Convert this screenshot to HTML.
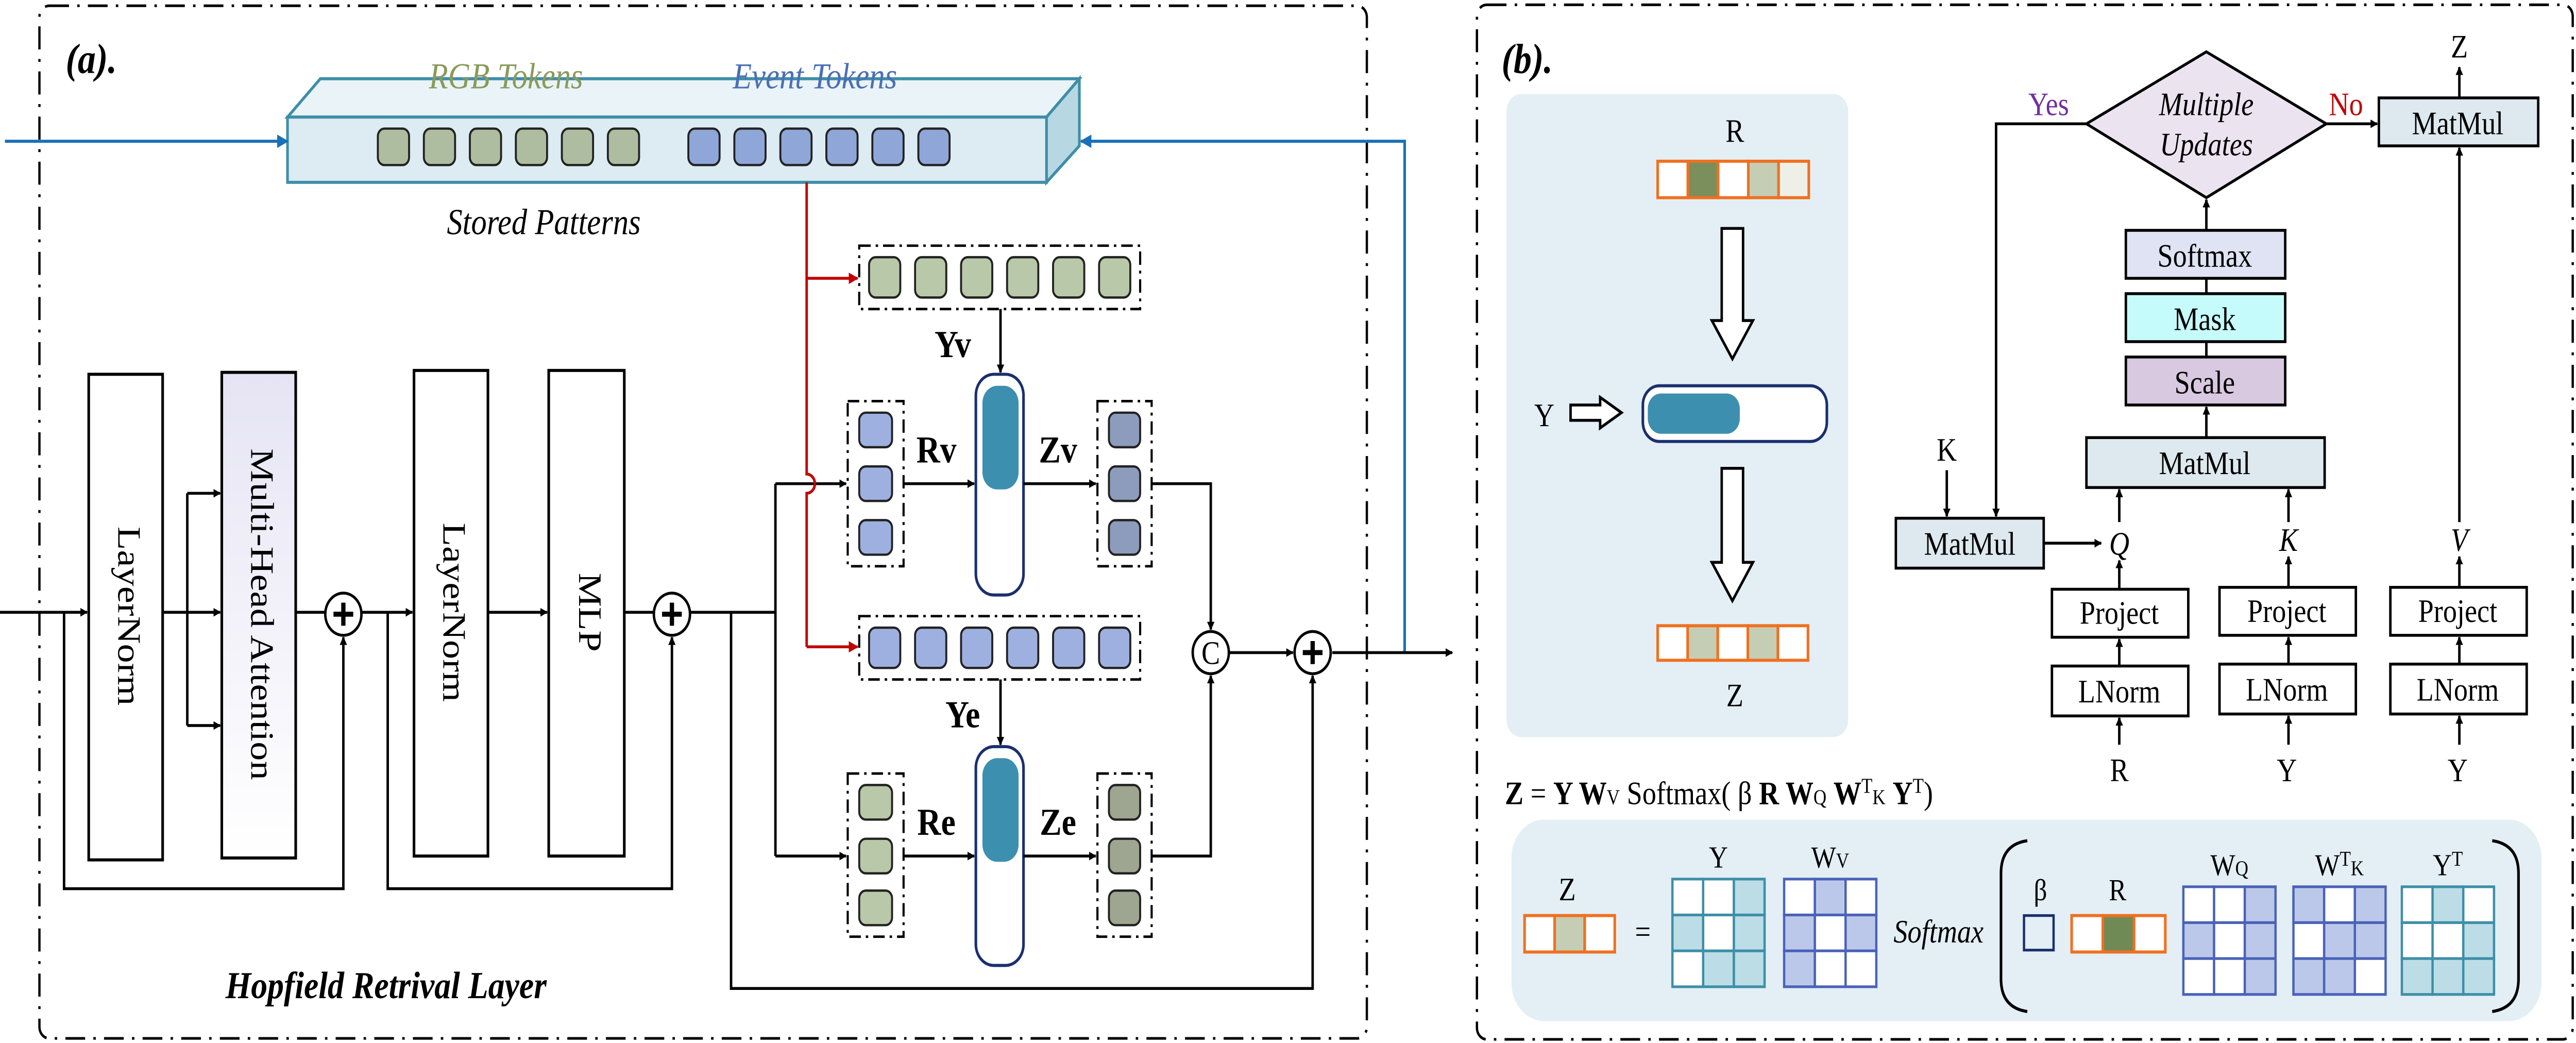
<!DOCTYPE html>
<html><head><meta charset="utf-8"><style>html,body{margin:0;padding:0;background:#fff;overflow:hidden;width:100%;height:100%}svg{display:block;position:absolute;left:0;top:0;width:100vw;height:100vh}</style></head><body>
<svg xmlns="http://www.w3.org/2000/svg" viewBox="0 0 1568 543.4" preserveAspectRatio="none" font-family="Liberation Serif, serif">
<defs>
<marker id="ab" viewBox="0 0 10 10" refX="9" refY="5" markerWidth="4.5" markerHeight="4.5" orient="auto" markerUnits="userSpaceOnUse"><path d="M0,0L10,5L0,10z" fill="#000"/></marker>
<marker id="ar" viewBox="0 0 10 10" refX="9" refY="5" markerWidth="6" markerHeight="6" orient="auto" markerUnits="userSpaceOnUse"><path d="M0,0L10,5L0,10z" fill="#c00000"/></marker>
<marker id="au" viewBox="0 0 10 10" refX="9" refY="5" markerWidth="7" markerHeight="7" orient="auto" markerUnits="userSpaceOnUse"><path d="M0,0L10,5L0,10z" fill="#1a70b8"/></marker>
<linearGradient id="mha" x1="0" y1="0" x2="0" y2="1"><stop offset="0" stop-color="#e6e4f4"/><stop offset="1" stop-color="#fff"/></linearGradient>
</defs>

<rect x="24" y="3" width="808" height="538" rx="6" fill="none" stroke="#000" stroke-width="1.4" stroke-dasharray="12 5 1.5 5"/>
<rect x="899" y="2.5" width="667" height="539" rx="6" fill="none" stroke="#000" stroke-width="1.4" stroke-dasharray="12 5 1.5 5"/>
<text x="40" y="38" font-size="22" font-style="italic" font-weight="bold">(a).</text>
<text x="914" y="38" font-size="22" font-style="italic" font-weight="bold">(b).</text>

<polygon points="175,61 195,41 657,41 637,61" fill="#eaf3f7" stroke="#3e8ea8" stroke-width="1.6"/>
<polygon points="637,61 657,41 657,76 637,95" fill="#b7d8e2" stroke="#3e8ea8" stroke-width="1.6"/>
<rect x="175" y="61" width="462" height="34" fill="#dcecf2" stroke="#3e8ea8" stroke-width="1.6"/>
<g stroke="#222" stroke-width="1.2">
<rect x="230" y="67" width="19" height="19" rx="4" fill="#aebd9f"/><rect x="258" y="67" width="19" height="19" rx="4" fill="#aebd9f"/><rect x="286" y="67" width="19" height="19" rx="4" fill="#aebd9f"/><rect x="314" y="67" width="19" height="19" rx="4" fill="#aebd9f"/><rect x="342" y="67" width="19" height="19" rx="4" fill="#aebd9f"/><rect x="370" y="67" width="19" height="19" rx="4" fill="#aebd9f"/>
<rect x="419" y="67" width="19" height="19" rx="4" fill="#8fa6d8"/><rect x="447" y="67" width="19" height="19" rx="4" fill="#8fa6d8"/><rect x="475" y="67" width="19" height="19" rx="4" fill="#8fa6d8"/><rect x="503" y="67" width="19" height="19" rx="4" fill="#8fa6d8"/><rect x="531" y="67" width="19" height="19" rx="4" fill="#8fa6d8"/><rect x="559" y="67" width="19" height="19" rx="4" fill="#8fa6d8"/>
</g>
<text x="308" y="46" font-size="19" font-style="italic" fill="#8a9a5b" text-anchor="middle">RGB Tokens</text>
<text x="496" y="46" font-size="19" font-style="italic" fill="#4a6fb5" text-anchor="middle">Event Tokens</text>
<text x="331" y="122" font-size="19" font-style="italic" text-anchor="middle">Stored  Patterns</text>

<line x1="3" y1="73.6" x2="175" y2="73.6" stroke="#1a70b8" stroke-width="1.6" marker-end="url(#au)"/>
<polyline points="855,340 855,73.6 658,73.6" fill="none" stroke="#1a70b8" stroke-width="1.6" marker-end="url(#au)"/>

<path d="M491,95 V247 a5,5 0 0 1 0,10 V337" fill="none" stroke="#c00000" stroke-width="1.5"/>
<line x1="491" y1="145" x2="522" y2="145" stroke="#c00000" stroke-width="1.5" marker-end="url(#ar)"/>
<line x1="491" y1="337" x2="522" y2="337" stroke="#c00000" stroke-width="1.5" marker-end="url(#ar)"/>

<g fill="none" stroke="#000" stroke-width="1.3" stroke-dasharray="7 3 1.5 3">
<rect x="523" y="128" width="171" height="33"/>
<rect x="523" y="321" width="171" height="33"/>
<rect x="516" y="209" width="34" height="86"/>
<rect x="668" y="209" width="33" height="86"/>
<rect x="516" y="403" width="34" height="85"/>
<rect x="668" y="403" width="33" height="85"/>
</g>
<g stroke="#222" stroke-width="1.2">
<rect x="529" y="134" width="19" height="21" rx="4" fill="#b9c8a8"/><rect x="557" y="134" width="19" height="21" rx="4" fill="#b9c8a8"/><rect x="585" y="134" width="19" height="21" rx="4" fill="#b9c8a8"/><rect x="613" y="134" width="19" height="21" rx="4" fill="#b9c8a8"/><rect x="641" y="134" width="19" height="21" rx="4" fill="#b9c8a8"/><rect x="669" y="134" width="19" height="21" rx="4" fill="#b9c8a8"/>
<rect x="529" y="327" width="19" height="21" rx="4" fill="#9db0e0"/><rect x="557" y="327" width="19" height="21" rx="4" fill="#9db0e0"/><rect x="585" y="327" width="19" height="21" rx="4" fill="#9db0e0"/><rect x="613" y="327" width="19" height="21" rx="4" fill="#9db0e0"/><rect x="641" y="327" width="19" height="21" rx="4" fill="#9db0e0"/><rect x="669" y="327" width="19" height="21" rx="4" fill="#9db0e0"/>
<rect x="523" y="215" width="20" height="18" rx="4" fill="#9db0e0"/><rect x="523" y="243" width="20" height="18" rx="4" fill="#9db0e0"/><rect x="523" y="271" width="20" height="18" rx="4" fill="#9db0e0"/>
<rect x="675" y="215" width="19" height="18" rx="4" fill="#8d9cbc"/><rect x="675" y="243" width="19" height="18" rx="4" fill="#8d9cbc"/><rect x="675" y="271" width="19" height="18" rx="4" fill="#8d9cbc"/>
<rect x="523" y="409" width="20" height="18" rx="4" fill="#b9c8a8"/><rect x="523" y="437" width="20" height="18" rx="4" fill="#b9c8a8"/><rect x="523" y="464" width="20" height="18" rx="4" fill="#b9c8a8"/>
<rect x="675" y="409" width="19" height="18" rx="4" fill="#9ea590"/><rect x="675" y="437" width="19" height="18" rx="4" fill="#9ea590"/><rect x="675" y="464" width="19" height="18" rx="4" fill="#9ea590"/>
</g>

<rect x="594" y="195" width="29" height="115" rx="11" fill="#fff" stroke="#1a2f6e" stroke-width="1.6"/>
<rect x="598" y="201" width="22" height="54" rx="9" fill="#3d8fb0"/>
<rect x="594" y="389" width="29" height="114" rx="11" fill="#fff" stroke="#1a2f6e" stroke-width="1.6"/>
<rect x="598" y="395" width="22" height="54" rx="9" fill="#3d8fb0"/>

<g font-size="20" font-weight="bold">
<text x="580" y="186" text-anchor="middle">Yv</text>
<text x="586" y="379" text-anchor="middle">Ye</text>
<text x="570" y="241" text-anchor="middle">Rv</text>
<text x="644" y="241" text-anchor="middle">Zv</text>
<text x="570" y="435" text-anchor="middle">Re</text>
<text x="644" y="435" text-anchor="middle">Ze</text>
</g>

<g fill="none" stroke="#000" stroke-width="1.5">
<line x1="609" y1="161" x2="609" y2="194" marker-end="url(#ab)"/>
<line x1="609" y1="354" x2="609" y2="388" marker-end="url(#ab)"/>
<line x1="550" y1="252" x2="593" y2="252" marker-end="url(#ab)"/>
<line x1="623" y1="252" x2="667" y2="252" marker-end="url(#ab)"/>
<line x1="550" y1="446" x2="593" y2="446" marker-end="url(#ab)"/>
<line x1="623" y1="446" x2="667" y2="446" marker-end="url(#ab)"/>
<polyline points="701,252 737,252 737,328" marker-end="url(#ab)"/>
<polyline points="701,446 737,446 737,352" marker-end="url(#ab)"/>
<line x1="748" y1="340" x2="787" y2="340" marker-end="url(#ab)"/>
<line x1="811" y1="340" x2="884" y2="340" marker-end="url(#ab)"/>
<line x1="0" y1="319" x2="53" y2="319" marker-end="url(#ab)"/>
<line x1="99" y1="319" x2="134" y2="319" marker-end="url(#ab)"/>
<polyline points="114,257 114,378"/>
<line x1="114" y1="257" x2="134" y2="257" marker-end="url(#ab)"/>
<line x1="114" y1="378" x2="134" y2="378" marker-end="url(#ab)"/>
<line x1="180" y1="319" x2="198" y2="319"/>
<line x1="220" y1="319" x2="251" y2="319" marker-end="url(#ab)"/>
<line x1="297" y1="319" x2="333" y2="319" marker-end="url(#ab)"/>
<line x1="380" y1="319" x2="398" y2="319"/>
<polyline points="39,319 39,463 209,463 209,332" marker-end="url(#ab)"/>
<polyline points="236,319 236,463 409,463 409,332" marker-end="url(#ab)"/>
<line x1="420" y1="319" x2="472" y2="319"/>
<polyline points="472,252 472,446"/>
<line x1="472" y1="252" x2="515" y2="252" marker-end="url(#ab)"/>
<line x1="472" y1="446" x2="515" y2="446" marker-end="url(#ab)"/>
<polyline points="445,319 445,515 799,515 799,352" marker-end="url(#ab)"/>
</g>
<path d="M491,247 a5,5 0 0 1 0,10" fill="none" stroke="#c00000" stroke-width="1.5"/>

<g stroke="#000" stroke-width="1.5" fill="#fff">
<circle cx="209" cy="320" r="11"/><circle cx="409" cy="320" r="11"/><circle cx="737" cy="340" r="11"/><circle cx="799" cy="340" r="11"/>
</g>
<g stroke="#000" stroke-width="2.6">
<path d="M203,320h12M209,314v12"/><path d="M403,320h12M409,314v12"/><path d="M793,340h12M799,334v12"/>
</g>
<text x="737" y="346" font-size="17" text-anchor="middle">C</text>

<g stroke="#000" stroke-width="1.6">
<rect x="54" y="195" width="45" height="253" fill="#fff"/>
<rect x="135" y="194" width="45" height="253" fill="url(#mha)"/>
<rect x="252" y="193" width="45" height="253" fill="#fff"/>
<rect x="334" y="193" width="46" height="253" fill="#fff"/>
</g>
<g font-size="20" text-anchor="middle" dominant-baseline="middle">
<text transform="translate(76.5,321) rotate(90)">LayerNorm</text>
<text transform="translate(157.5,320) rotate(90)">Multi-Head Attention</text>
<text transform="translate(274.5,319) rotate(90)">LayerNorm</text>
<text transform="translate(357,319) rotate(90)">MLP</text>
</g>
<text x="235" y="520" font-size="20" font-style="italic" font-weight="bold" text-anchor="middle">Hopfield Retrival Layer</text>

<rect x="917" y="49" width="208" height="335" rx="9" fill="#e3eff5"/>
<text x="1056" y="74" font-size="17" text-anchor="middle">R</text>
<g stroke="#f07020" stroke-width="1.6">
<rect x="1009" y="84" width="18.4" height="19" fill="#fff"/><rect x="1027.4" y="84" width="18.4" height="19" fill="#7a8f5c"/><rect x="1045.8" y="84" width="18.4" height="19" fill="#fff"/><rect x="1064.2" y="84" width="18.4" height="19" fill="#c5cdb5"/><rect x="1082.6" y="84" width="18.4" height="19" fill="#eef0e8"/>
<rect x="1009" y="326" width="18.3" height="18" fill="#fff"/><rect x="1027.3" y="326" width="18.3" height="18" fill="#c5cdb5"/><rect x="1045.6" y="326" width="18.3" height="18" fill="#fff"/><rect x="1063.9" y="326" width="18.3" height="18" fill="#c5cdb5"/><rect x="1082.2" y="326" width="18.3" height="18" fill="#fff"/>
</g>
<g fill="#fff" stroke="#000" stroke-width="1.5">
<path d="M1048,119 H1061 V167 H1067 L1054.5,187 L1042,167 H1048 Z"/>
<path d="M1048,244 H1061 V293 H1067 L1054.5,313 L1042,293 H1048 Z"/>
<path d="M956,211 H974 V207 L987,215 L974,223 V219 H956 Z"/>
</g>
<text x="940" y="222" font-size="17" text-anchor="middle">Y</text>
<rect x="1000" y="201" width="112" height="29" rx="10" fill="#fff" stroke="#1a2f6e" stroke-width="1.6"/>
<rect x="1003" y="205" width="56" height="21" rx="8" fill="#3d8fb0"/>
<text x="1056" y="368" font-size="17" text-anchor="middle">Z</text>

<text x="916" y="419" font-size="17"><tspan font-weight="bold">Z</tspan> = <tspan font-weight="bold">Y W</tspan><tspan font-size="11">V</tspan> Softmax( β <tspan font-weight="bold">R W</tspan><tspan font-size="11">Q</tspan> <tspan font-weight="bold">W</tspan><tspan font-size="11" dy="-6">T</tspan><tspan font-size="11" dy="6">K</tspan> <tspan font-weight="bold">Y</tspan><tspan font-size="11" dy="-6">T</tspan><tspan dy="6">)</tspan></text>

<rect x="920" y="427" width="627" height="105" rx="20" fill="#e3eff5"/>
<text x="954" y="469" font-size="17" text-anchor="middle">Z</text>
<g stroke="#f07020" stroke-width="1.6">
<rect x="928" y="477" width="18.3" height="19" fill="#fff"/><rect x="946.3" y="477" width="18.3" height="19" fill="#c5cdb5"/><rect x="964.6" y="477" width="18.3" height="19" fill="#fff"/>
<rect x="1261" y="477" width="19" height="19" fill="#fff"/><rect x="1280" y="477" width="19" height="19" fill="#6f8a55"/><rect x="1299" y="477" width="19" height="19" fill="#fff"/>
</g>
<text x="1000" y="491" font-size="17" text-anchor="middle">=</text>
<text x="1046" y="452" font-size="16" text-anchor="middle">Y</text>
<text x="1114" y="452" font-size="16" text-anchor="middle">W<tspan font-size="11">V</tspan></text>
<text x="1357" y="456" font-size="16" text-anchor="middle">W<tspan font-size="11">Q</tspan></text>
<text x="1424" y="456" font-size="16" text-anchor="middle">W<tspan font-size="11" dy="-5">T</tspan><tspan font-size="11" dy="5">K</tspan></text>
<text x="1490" y="456" font-size="16" text-anchor="middle">Y<tspan font-size="11" dy="-5">T</tspan></text>
<text x="1242" y="469" font-size="16" text-anchor="middle">β</text>
<text x="1289" y="469" font-size="16" text-anchor="middle">R</text>
<text x="1180" y="491" font-size="17" font-style="italic" text-anchor="middle">Softmax</text>
<rect x="1232" y="477" width="18" height="18" fill="#e3eff5" stroke="#1a2f6e" stroke-width="1.4"/>
<path d="M1234,438 Q1218,440 1218,455 V510 Q1218,525 1234,527" fill="none" stroke="#000" stroke-width="1.6"/>
<path d="M1517,438 Q1533,440 1533,455 V510 Q1533,525 1517,527" fill="none" stroke="#000" stroke-width="1.6"/>
<g stroke="#3e8ea8" stroke-width="1.4">
<rect x="1018" y="458" width="18.7" height="18.7" fill="#fff"/><rect x="1036.7" y="458" width="18.7" height="18.7" fill="#fff"/><rect x="1055.4" y="458" width="18.7" height="18.7" fill="#bcdde6"/>
<rect x="1018" y="476.7" width="18.7" height="18.7" fill="#bcdde6"/><rect x="1036.7" y="476.7" width="18.7" height="18.7" fill="#fff"/><rect x="1055.4" y="476.7" width="18.7" height="18.7" fill="#bcdde6"/>
<rect x="1018" y="495.4" width="18.7" height="18.7" fill="#fff"/><rect x="1036.7" y="495.4" width="18.7" height="18.7" fill="#bcdde6"/><rect x="1055.4" y="495.4" width="18.7" height="18.7" fill="#bcdde6"/>
<rect x="1462" y="462" width="18.7" height="18.7" fill="#fff"/><rect x="1480.7" y="462" width="18.7" height="18.7" fill="#bcdde6"/><rect x="1499.4" y="462" width="18.7" height="18.7" fill="#fff"/>
<rect x="1462" y="480.7" width="18.7" height="18.7" fill="#fff"/><rect x="1480.7" y="480.7" width="18.7" height="18.7" fill="#fff"/><rect x="1499.4" y="480.7" width="18.7" height="18.7" fill="#bcdde6"/>
<rect x="1462" y="499.4" width="18.7" height="18.7" fill="#bcdde6"/><rect x="1480.7" y="499.4" width="18.7" height="18.7" fill="#bcdde6"/><rect x="1499.4" y="499.4" width="18.7" height="18.7" fill="#bcdde6"/>
</g>
<g stroke="#4a62b8" stroke-width="1.4">
<rect x="1086" y="458" width="18.7" height="18.7" fill="#fff"/><rect x="1104.7" y="458" width="18.7" height="18.7" fill="#bcc8ea"/><rect x="1123.4" y="458" width="18.7" height="18.7" fill="#fff"/>
<rect x="1086" y="476.7" width="18.7" height="18.7" fill="#bcc8ea"/><rect x="1104.7" y="476.7" width="18.7" height="18.7" fill="#fff"/><rect x="1123.4" y="476.7" width="18.7" height="18.7" fill="#bcc8ea"/>
<rect x="1086" y="495.4" width="18.7" height="18.7" fill="#bcc8ea"/><rect x="1104.7" y="495.4" width="18.7" height="18.7" fill="#fff"/><rect x="1123.4" y="495.4" width="18.7" height="18.7" fill="#fff"/>
<rect x="1329" y="462" width="18.7" height="18.7" fill="#fff"/><rect x="1347.7" y="462" width="18.7" height="18.7" fill="#fff"/><rect x="1366.4" y="462" width="18.7" height="18.7" fill="#bcc8ea"/>
<rect x="1329" y="480.7" width="18.7" height="18.7" fill="#bcc8ea"/><rect x="1347.7" y="480.7" width="18.7" height="18.7" fill="#fff"/><rect x="1366.4" y="480.7" width="18.7" height="18.7" fill="#bcc8ea"/>
<rect x="1329" y="499.4" width="18.7" height="18.7" fill="#fff"/><rect x="1347.7" y="499.4" width="18.7" height="18.7" fill="#fff"/><rect x="1366.4" y="499.4" width="18.7" height="18.7" fill="#bcc8ea"/>
<rect x="1396" y="462" width="18.7" height="18.7" fill="#bcc8ea"/><rect x="1414.7" y="462" width="18.7" height="18.7" fill="#fff"/><rect x="1433.4" y="462" width="18.7" height="18.7" fill="#bcc8ea"/>
<rect x="1396" y="480.7" width="18.7" height="18.7" fill="#fff"/><rect x="1414.7" y="480.7" width="18.7" height="18.7" fill="#bcc8ea"/><rect x="1433.4" y="480.7" width="18.7" height="18.7" fill="#bcc8ea"/>
<rect x="1396" y="499.4" width="18.7" height="18.7" fill="#bcc8ea"/><rect x="1414.7" y="499.4" width="18.7" height="18.7" fill="#bcc8ea"/><rect x="1433.4" y="499.4" width="18.7" height="18.7" fill="#fff"/>
</g>

<polygon points="1343,27 1416,64.5 1343,103 1270,64.5" fill="#ebe4f0" stroke="#000" stroke-width="1.5"/>
<text x="1343" y="60" font-size="17" font-style="italic" text-anchor="middle">Multiple</text>
<text x="1343" y="81" font-size="17" font-style="italic" text-anchor="middle">Updates</text>
<text x="1247" y="60" font-size="17" fill="#7030a0" text-anchor="middle">Yes</text>
<text x="1428" y="60" font-size="17" fill="#c00000" text-anchor="middle">No</text>
<g stroke="#000" stroke-width="1.5">
<rect x="1448" y="51" width="97" height="25" fill="#dde9ef"/>
<rect x="1294" y="120" width="97" height="25" fill="#dfe3f3"/>
<rect x="1294" y="153" width="97" height="25" fill="#c6fbfb"/>
<rect x="1294" y="186" width="97" height="25" fill="#d8c8e0"/>
<rect x="1270" y="228" width="145" height="26" fill="#dde9ef"/>
<rect x="1154" y="270" width="90" height="26" fill="#dde9ef"/>
<rect x="1249" y="307" width="83" height="25" fill="#fff"/>
<rect x="1351" y="306" width="83" height="25" fill="#fff"/>
<rect x="1455" y="306" width="83" height="25" fill="#fff"/>
<rect x="1249" y="347" width="83" height="26" fill="#fff"/>
<rect x="1351" y="346" width="83" height="26" fill="#fff"/>
<rect x="1455" y="346" width="83" height="26" fill="#fff"/>
</g>
<g font-size="17" text-anchor="middle">
<text x="1496" y="70">MatMul</text>
<text x="1342" y="139">Softmax</text>
<text x="1342" y="172">Mask</text>
<text x="1342" y="205">Scale</text>
<text x="1342" y="247">MatMul</text>
<text x="1199" y="289">MatMul</text>
<text x="1290" y="325">Project</text>
<text x="1392" y="324">Project</text>
<text x="1496" y="324">Project</text>
<text x="1290" y="366">LNorm</text>
<text x="1392" y="365">LNorm</text>
<text x="1496" y="365">LNorm</text>
<text x="1497" y="30">Z</text>
<text x="1185" y="240">K</text>
<text x="1290" y="407">R</text>
<text x="1392" y="407">Y</text>
<text x="1496" y="407">Y</text>
<g font-style="italic"><text x="1290" y="289">Q</text><text x="1393" y="287">K</text><text x="1497" y="287">V</text></g>
</g>
<g fill="none" stroke="#000" stroke-width="1.5">
<polyline points="1270,64.5 1215,64.5 1215,269" marker-end="url(#ab)"/>
<line x1="1416" y1="64.5" x2="1447" y2="64.5" marker-end="url(#ab)"/>
<line x1="1497" y1="51" x2="1497" y2="35" marker-end="url(#ab)"/>
<line x1="1343" y1="120" x2="1343" y2="104" marker-end="url(#ab)"/>
<line x1="1343" y1="145" x2="1343" y2="153"/>
<line x1="1343" y1="178" x2="1343" y2="186"/>
<line x1="1343" y1="228" x2="1343" y2="212" marker-end="url(#ab)"/>
<line x1="1185" y1="245" x2="1185" y2="269" marker-end="url(#ab)"/>
<line x1="1244" y1="283" x2="1279" y2="283" marker-end="url(#ab)"/>
<line x1="1290" y1="272" x2="1290" y2="255" marker-end="url(#ab)"/>
<line x1="1393" y1="272" x2="1393" y2="255" marker-end="url(#ab)"/>
<line x1="1497" y1="272" x2="1497" y2="77" marker-end="url(#ab)"/>
<line x1="1290" y1="307" x2="1290" y2="292" marker-end="url(#ab)"/>
<line x1="1393" y1="306" x2="1393" y2="290" marker-end="url(#ab)"/>
<line x1="1497" y1="306" x2="1497" y2="290" marker-end="url(#ab)"/>
<line x1="1290" y1="347" x2="1290" y2="333" marker-end="url(#ab)"/>
<line x1="1393" y1="346" x2="1393" y2="332" marker-end="url(#ab)"/>
<line x1="1497" y1="346" x2="1497" y2="332" marker-end="url(#ab)"/>
<line x1="1290" y1="388" x2="1290" y2="374" marker-end="url(#ab)"/>
<line x1="1393" y1="388" x2="1393" y2="373" marker-end="url(#ab)"/>
<line x1="1497" y1="388" x2="1497" y2="373" marker-end="url(#ab)"/>
</g>
</svg>
</body></html>
